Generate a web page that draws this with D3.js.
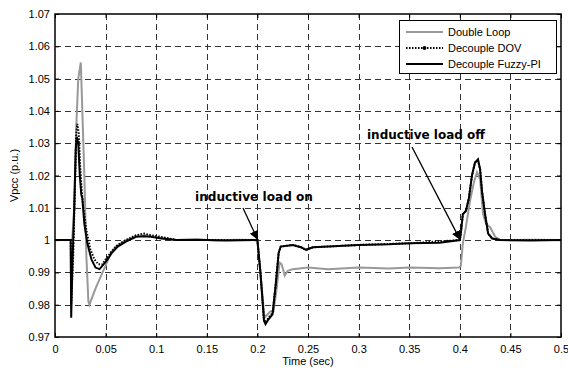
<!DOCTYPE html>
<html>
<head>
<meta charset="utf-8">
<script src="https://cdn.jsdelivr.net/npm/d3@7"></script>
<style>
  body { margin: 0; background: #fff; }
  text { font-family: "Liberation Sans", Arial, sans-serif; }
</style>
</head>
<body>
<script>
// time axis / value axis ticks
var xTicks = [0, 0.05, 0.1, 0.15, 0.2, 0.25, 0.3, 0.35, 0.4, 0.45, 0.5]
var yTicks = [0.97, 0.98, 0.99, 1, 1.01, 1.02, 1.03, 1.04, 1.05, 1.06, 1.07]
var seriesNames = ["Double Loop", "Decouple DOV", "Decouple Fuzzy-PI"]

// Double Loop
var dlT = [0, 0.017, 0.019, 0.021, 0.023, 0.0245, 0.0255, 0.027, 0.029, 0.031, 0.033, 0.034, 0.04, 0.047, 0.05,
    0.055, 0.06, 0.07, 0.08, 0.09, 0.1, 0.11, 0.12, 0.14, 0.16, 0.18, 0.2,
    0.207, 0.21, 0.213, 0.216, 0.219, 0.222, 0.224, 0.227, 0.23, 0.235, 0.25, 0.27, 0.3, 0.33, 0.35, 0.38, 0.399,
    0.401, 0.403, 0.406, 0.41, 0.414, 0.417, 0.42, 0.423, 0.426, 0.43, 0.435, 0.44, 0.47, 0.5]
var dlV = [1, 1, 1.01, 1.035, 1.05, 1.053, 1.055, 1.04, 1.02, 0.995, 0.981, 0.98, 0.985, 0.99, 0.992,
    0.996, 0.998, 1.0, 1.0013, 1.0015, 1.001, 1.0005, 1.0, 1.0002, 0.9999, 1.0001, 1.0,
    0.976, 0.977, 0.978, 0.978, 0.985, 0.993, 0.9925, 0.989, 0.9905, 0.991, 0.9915, 0.991, 0.9915, 0.9912, 0.9915, 0.9913, 0.9915,
    0.992, 0.999, 1.004, 1.012, 1.018, 1.021, 1.019, 1.008, 1.005, 1.004, 1.001, 1.0, 1.0001, 1.0]

// Decouple DOV
var dovT = [0, 0.0155, 0.016, 0.018, 0.02, 0.021, 0.022, 0.0235, 0.025, 0.0265, 0.028, 0.031, 0.035, 0.039, 0.043,
    0.047, 0.051, 0.056, 0.062, 0.07, 0.08, 0.088, 0.095, 0.105, 0.12, 0.15, 0.2,
    0.203, 0.2065, 0.208, 0.211, 0.215, 0.218, 0.221, 0.223, 0.235, 0.243, 0.248, 0.255, 0.27, 0.3, 0.35, 0.4,
    0.401, 0.403, 0.406, 0.409, 0.412, 0.415, 0.418, 0.42, 0.422, 0.425, 0.428, 0.432, 0.44, 0.5]
var dovV = [1, 1, 0.98, 0.995, 1.02, 1.033, 1.036, 1.033, 1.022, 1.015, 1.01, 1.003, 0.997, 0.994, 0.9925,
    0.9925, 0.9945, 0.9965, 0.9985, 1.0, 1.0015, 1.002, 1.0015, 1.001, 1.0, 1.0, 1.0,
    0.99, 0.9755, 0.9745, 0.976, 0.9775, 0.986, 0.996, 0.998, 0.9985, 0.9978, 0.997, 0.9978, 0.998, 0.9985, 0.999, 1.0,
    1.002, 1.008, 1.009, 1.013, 1.02, 1.024, 1.0245, 1.022, 1.015, 1.008, 1.002, 1.0005, 1.0, 1.0]

// Decouple Fuzzy-PI
var fzT = [0, 0.0155, 0.016, 0.017, 0.019, 0.0205, 0.0215, 0.023, 0.0245, 0.026, 0.027, 0.029, 0.032, 0.036, 0.04,
    0.044, 0.048, 0.052, 0.056, 0.062, 0.07, 0.08, 0.088, 0.095, 0.105, 0.12, 0.14, 0.17, 0.2,
    0.203, 0.2065, 0.208, 0.211, 0.215, 0.218, 0.221, 0.223, 0.235, 0.243, 0.248, 0.255, 0.27, 0.3, 0.33, 0.35, 0.38, 0.4,
    0.401, 0.403, 0.406, 0.409, 0.412, 0.415, 0.418, 0.42, 0.422, 0.425, 0.428, 0.432, 0.44, 0.47, 0.5]
var fzV = [1, 1, 0.976, 0.99, 1.01, 1.028, 1.032, 1.03, 1.02, 1.014, 1.013, 1.005, 0.999, 0.994, 0.9915,
    0.991, 0.9925, 0.994, 0.996, 0.998, 0.9995, 1.001, 1.0012, 1.001, 1.0005, 1.0, 1.0001, 0.9999, 1.0,
    0.99, 0.975, 0.974, 0.9755, 0.977, 0.986, 0.996, 0.998, 0.9985, 0.9978, 0.997, 0.9978, 0.998, 0.9985, 0.9987, 0.999, 0.9992, 1.0,
    1.002, 1.008, 1.009, 1.013, 1.02, 1.024, 1.025, 1.022, 1.015, 1.008, 1.002, 1.0005, 1.0, 0.9999, 1.0]

var W = 568, H = 371
var m = { left: 55, top: 14, right: 561, bottom: 337 }

var svg = d3.select("body").append("svg")
    .attr("width", W)
    .attr("height", H)

var x = d3.scaleLinear().domain([0, 0.5]).range([m.left, m.right])
var y = d3.scaleLinear().domain([0.97, 1.07]).range([m.bottom, m.top])
var crisp = v => Math.round(v) + 0.5

// Grid
svg.append("g").selectAll("line").data(xTicks.slice(1, -1)).enter().append("line")
    .attr("x1", d => crisp(x(d))).attr("x2", d => crisp(x(d)))
    .attr("y1", m.top).attr("y2", m.bottom)
    .style("stroke", "#333").style("stroke-width", 1).style("stroke-dasharray", "6,4")
svg.append("g").selectAll("line").data(yTicks.slice(1, -1)).enter().append("line")
    .attr("y1", d => crisp(y(d))).attr("y2", d => crisp(y(d)))
    .attr("x1", m.left).attr("x2", m.right)
    .style("stroke", "#333").style("stroke-width", 1).style("stroke-dasharray", "6,4")

// Axes (ticks inside, MATLAB style)
var fmt = d => d3.format("")(+d.toFixed(2))
svg.append("g").attr("transform", "translate(0," + m.bottom + ")")
    .call(d3.axisBottom(x).tickValues(xTicks).tickSize(-4).tickPadding(8).tickFormat(fmt))
svg.append("g").attr("transform", "translate(" + m.left + ",0)")
    .call(d3.axisLeft(y).tickValues(yTicks).tickSize(-4).tickPadding(5).tickFormat(fmt))
svg.append("g").attr("transform", "translate(0," + m.top + ")")
    .call(d3.axisTop(x).tickValues(xTicks).tickSize(-4).tickFormat(""))
svg.append("g").attr("transform", "translate(" + m.right + ",0)")
    .call(d3.axisRight(y).tickValues(yTicks).tickSize(-4).tickFormat(""))
svg.selectAll(".domain").remove()
svg.selectAll(".tick text").style("font-size", "11px").style("fill", "#000")
svg.selectAll(".tick line").style("stroke", "#000")

// Series
var line = d3.line().x(d => x(d[0])).y(d => y(d[1]))
function pairs(t, v) { return t.map((d, i) => [d, v[i]]) }

svg.append("path").datum(pairs(dlT, dlV)).attr("d", line)
    .style("fill", "none").style("stroke", "#999").style("stroke-width", 2)
svg.append("path").datum(pairs(dovT, dovV)).attr("d", line)
    .style("fill", "none").style("stroke", "#000").style("stroke-width", 2).style("stroke-dasharray", "1.5,1.5")
svg.append("path").datum(pairs(fzT, fzV)).attr("d", line)
    .style("fill", "none").style("stroke", "#000").style("stroke-width", 2)

// Frame
svg.append("rect")
    .attr("x", m.left).attr("y", m.top)
    .attr("width", m.right - m.left).attr("height", m.bottom - m.top)
    .style("fill", "none").style("stroke", "#000").style("stroke-width", 1.5)

// Axis labels
svg.append("text").attr("x", (m.left + m.right) / 2).attr("y", 365)
    .attr("text-anchor", "middle").style("font-size", "11px").text("Time (sec)")
svg.append("text").attr("transform", "translate(18," + ((m.top + m.bottom) / 2) + ") rotate(-90)")
    .attr("text-anchor", "middle").style("font-size", "11px").text("Vpcc (p.u.)")

// Legend
var lg = svg.append("g")
lg.append("rect").attr("x", 399.5).attr("y", 20.5).attr("width", 157).attr("height", 53)
    .style("fill", "#fff").style("stroke", "#000").style("stroke-width", 1)
var lgStyles = [
    { stroke: "#999", dash: null },
    { stroke: "#000", dash: "1.5,1.5" },
    { stroke: "#000", dash: null }
]
seriesNames.forEach(function(name, i) {
    var ly = 32 + i * 16
    lg.append("line").attr("x1", 406).attr("x2", 443).attr("y1", ly).attr("y2", ly)
        .style("stroke", lgStyles[i].stroke).style("stroke-width", 2)
        .style("stroke-dasharray", lgStyles[i].dash)
    if (i == 1) {
        lg.append("circle").attr("cx", 424.5).attr("cy", ly).attr("r", 2).style("fill", "#000")
    }
    lg.append("text").attr("x", 448).attr("y", ly + 4).style("font-size", "11px").text(name)
})

// Annotations
svg.append("defs").append("marker")
    .attr("id", "arrow").attr("viewBox", "0 0 10 10")
    .attr("refX", 9).attr("refY", 5)
    .attr("markerWidth", 7).attr("markerHeight", 7)
    .attr("orient", "auto")
    .append("path").attr("d", "M0,0 L10,5 L0,10 z").style("fill", "#000")

function note(label, tx, ty, x1, y1, x2, y2) {
    svg.append("text").attr("x", tx).attr("y", ty)
        .style("font-size", "12px").style("font-weight", "bold")
        .style("font-family", "'DejaVu Sans', sans-serif")
        .attr("textLength", 118).attr("lengthAdjust", "spacingAndGlyphs")
        .text(label)
    svg.append("line").attr("x1", x1).attr("y1", y1).attr("x2", x2).attr("y2", y2)
        .style("stroke", "#000").style("stroke-width", 1.3)
        .attr("marker-end", "url(#arrow)")
}
note("inductive load on", 195, 201, 243, 208, x(0.2), y(1.0) - 1)
note("inductive load off", 367, 139, 412, 147, x(0.4), y(1.0) - 1)
</script>
</body>
</html>
